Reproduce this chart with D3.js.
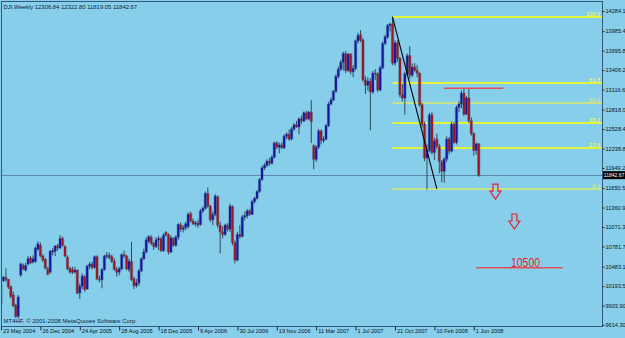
<!DOCTYPE html>
<html>
<head>
<meta charset="utf-8">
<title>DJI Weekly</title>
<style>
  html, body { margin: 0; padding: 0; background: #87ceeb; overflow: hidden; }
  svg { display: block; }
  text { font-family: "Liberation Sans", Arial, sans-serif; }
</style>
</head>
<body>
<div id="chart"></div>
<script src="https://cdn.jsdelivr.net/npm/d3@7"></script>
<script>
(function () {
  "use strict";

  // weekly candles (bar index 0 = 23 May 2004)
  var open = [9940,10270,10320,10290,10185,10060,9910,9745,10360,10500,
    10430,10520,10610,10550,10560,10740,10800,10640,10590,10450,
    10400,10700,10710,10790,10760,10900,10780,10620,10460,10440,
    10400,10430,10090,10190,10330,10150,10490,10520,10470,10630,
    10300,10290,10440,10640,10650,10630,10560,10440,10400,10450,
    10660,10640,10440,10560,10300,10200,10240,10420,10600,10700,
    10860,10920,10830,10780,10880,10900,10720,10990,10950,10700,
    10900,10800,10920,11100,11040,11060,11080,11270,11160,11120,
    11130,11110,11310,11350,11570,11380,11180,11260,11520,11100,
    11000,10960,11100,11040,11380,10840,10580,10960,10930,11220,
    11240,11310,11260,11450,11500,11600,11780,11950,11990,12050,
    12020,12110,12320,12260,12290,12250,12420,12450,12380,12530,
    12590,12560,12680,12650,12770,12680,12780,12280,12080,12260,
    12500,12360,12380,12580,12900,12960,13090,13310,13420,13520,
    13650,13400,13640,13380,13430,13840,13930,13850,13260,13180,
    13240,13080,13360,13350,13110,13440,13800,13900,14070,14090,
    13510,13810,13580,13040,12990,13350,13620,13330,13450,13400,
    13360,12890,12600,12100,12210,12740,12180,12380,12270,12040,
    11900,12080,12380,12200,12600,12330,12850,12900,13060,12750,
    12990,12650,12460,12210,12306.84];
  var high = [10240,10345,10457,10300,10200,10110,9930,10060,10540,10530,
    10540,10640,10640,10650,10780,10860,10840,10670,10610,10480,
    10730,10760,10800,10820,10950,10930,10800,10650,10480,10480,
    10480,10440,10230,10380,10360,10510,10550,10560,10650,10650,
    10350,10460,10660,10700,10690,10660,10610,10480,10480,10680,
    10720,10660,10600,10850,10330,10300,10450,10620,10750,10920,
    10950,10950,10850,10920,10940,10920,10980,11010,10980,10950,
    10920,10950,11130,11140,11100,11150,11290,11300,11200,11160,
    11180,11340,11380,11600,11660,11400,11300,11560,11540,11150,
    11080,11120,11130,11420,11390,10870,11000,11100,11250,11300,
    11340,11340,11480,11520,11620,11800,11980,12020,12080,12100,
    12140,12340,12350,12330,12330,12450,12480,12520,12560,12620,
    12650,12700,12730,12790,12800,12800,12960,12300,12290,12530,
    12520,12420,12600,12930,13000,13110,13340,13460,13560,13680,
    13690,13660,13660,13480,13860,13960,14000,13880,13320,13300,
    13280,13390,13420,13370,13470,13830,13930,14090,14110,14200,
    13850,13850,13600,13200,13380,13650,13760,13500,13510,13480,
    13370,12920,12640,12300,12770,12780,12400,12460,12310,12070,
    12110,12420,12410,12640,12630,12880,12940,13100,13140,13020,
    13135,12700,12480,12330,12322.80];
  var low = [9910,10255,10260,10150,10010,9880,9720,9710,10330,10430,
    10410,10500,10520,10530,10540,10720,10620,10550,10440,10350,
    10380,10650,10640,10720,10740,10780,10620,10430,10380,10370,
    10380,10070,10000,10150,10110,10140,10450,10440,10450,10280,
    10250,10160,10420,10600,10590,10540,10420,10330,10350,10430,
    10610,10430,10400,10270,10150,10170,10200,10400,10580,10680,
    10830,10800,10730,10760,10730,10700,10700,10930,10660,10680,
    10780,10780,10880,11000,10990,11020,11050,11140,11100,11080,
    11060,11090,11280,11330,11360,11150,11100,11230,11060,10680,
    10900,10940,11000,11000,10800,10530,10560,10900,10920,11170,
    11200,11240,11250,11420,11480,11580,11760,11920,11960,11980,
    12000,12090,12230,12170,12230,12230,12380,12350,12360,12500,
    12550,12450,12600,12630,12660,12660,12320,11930,12040,12230,
    12300,12320,12360,12560,12880,12940,13070,13280,13390,13400,
    13360,13380,13340,13300,13400,13800,13820,13230,13050,13100,
    12510,13050,13260,13080,13090,13420,13780,13870,13980,13480,
    13470,13530,13000,12940,12740,13320,13280,13300,13380,13300,
    12860,12550,12050,11630,12180,12150,12070,12230,11870,11740,
    11730,12040,12150,12180,12310,12300,12780,12840,12720,12740,
    12620,12430,12130,12150,11819.05];
  var close = [10210,10325,10290,10180,10035,9900,9740,10030,10520,10450,
    10500,10600,10540,10600,10760,10820,10640,10580,10460,10370,
    10710,10720,10790,10760,10900,10800,10640,10450,10400,10400,
    10430,10090,10190,10340,10140,10490,10520,10470,10630,10300,
    10290,10440,10640,10650,10620,10560,10440,10400,10450,10660,
    10640,10450,10560,10290,10200,10240,10420,10600,10700,10880,
    10930,10830,10780,10880,10900,10720,10950,10950,10700,10910,
    10800,10920,11110,11040,11060,11120,11260,11160,11120,11130,
    11100,11310,11350,11570,11380,11180,11260,11530,11100,11000,
    10960,11100,11040,11380,10840,10580,10960,10930,11220,11240,
    11310,11260,11450,11500,11600,11780,11950,11990,12050,12020,
    12110,12320,12260,12290,12250,12420,12450,12380,12530,12590,
    12560,12680,12650,12770,12680,12780,12640,12080,12260,12500,
    12360,12380,12580,12900,12960,13090,13310,13420,13520,13650,
    13400,13640,13380,13430,13840,13920,13850,13260,13180,13240,
    13080,13360,13350,13110,13440,13800,13900,14070,14090,13510,
    13810,13580,13040,12990,13350,13620,13330,13450,13400,13360,
    12890,12600,12100,12210,12740,12180,12350,12270,12050,11900,
    12080,12380,12200,12600,12330,12850,12900,13060,12750,12990,
    12650,12460,12210,12307,11842.67];

  var yTicks = [14284.10, 13985.40, 13695.80, 13406.20, 13116.60, 12818.00, 12528.40,
    12238.80, 11949.20, 11650.50, 11360.90, 11071.30, 10781.70, 10483.10,
    10193.50, 9903.90, 9614.30];
  var xTickBars = [0, 16, 32, 48, 64, 80, 96, 112, 128, 144, 160, 176, 192];
  var xTickLabels = ["23 May 2004", "26 Dec 2004", "24 Apr 2005", "28 Aug 2005",
    "18 Dec 2005", "9 Apr 2006", "30 Jul 2006", "19 Nov 2006", "11 Mar 2007",
    "1 Jul 2007", "21 Oct 2007", "10 Feb 2008", "1 Jun 2008"];

  // drawn objects
  var fibLevels = [100.0, 61.8, 50.0, 38.2, 23.6, 0.0];
  var fibHigh = 14198, fibLow = 11634.8, fibStartBar = 159;
  var trendBars = [159, 177], trendPrices = [14198, 11640];
  var resistBars = [180, 204], resistPrice = 13136;
  var arrowBars = [200.8, 208.5], arrowPrices = [11710, 11265];
  var targetBars = [193, 228], targetPrice = 10466, targetLabel = "10500";

  var W = 625, H = 338;
  var plot = {left: 1.5, right: 602.5, top: 1.5, bottom: 326.5};
  var small = "5.6px";

  var x = d3.scaleLinear().domain([0, 194]).range([1, 478.7]);
  var y = d3.scaleLinear().domain([9614.3, 14284.1]).range([325, 11]);

  var svg = d3.select("#chart").append("svg")
    .attr("width", W).attr("height", H);

  svg.append("rect").attr("width", W).attr("height", H).attr("fill", "#87ceeb");

  svg.append("clipPath").attr("id", "plotclip").append("rect")
    .attr("x", plot.left).attr("y", plot.top)
    .attr("width", plot.right - plot.left).attr("height", plot.bottom - plot.top);

  var g = svg.append("g").attr("clip-path", "url(#plotclip)");

  // last price line
  var last = close[close.length - 1];
  g.append("line")
    .attr("x1", plot.left).attr("x2", plot.right)
    .attr("y1", Math.round(y(last)) + 0.5).attr("y2", Math.round(y(last)) + 0.5)
    .attr("stroke", "#6088ad").attr("stroke-width", 1);

  // fibonacci levels
  fibLevels.forEach(function (lv) {
    var price = fibLow + (fibHigh - fibLow) * lv / 100;
    var yy = Math.round(y(price));
    var pale = (lv === 50 || lv === 0);
    g.append("line")
      .attr("x1", x(fibStartBar)).attr("x2", plot.right)
      .attr("y1", yy).attr("y2", yy)
      .attr("stroke", pale ? "#d8ea6c" : "#ffff00").attr("stroke-width", 1.6);
    g.append("text")
      .attr("x", 600).attr("y", yy - 1.5)
      .attr("text-anchor", "end")
      .attr("font-size", small)
      .attr("fill", pale ? "#e0ee70" : "#ffff20")
      .text(lv.toFixed(1));
  });

  // candles
  var bars = d3.range(close.length);
  var candle = g.selectAll("g.candle").data(bars).enter().append("g").attr("class", "candle");

  candle.append("line")
    .attr("x1", function (d) { return x(d); })
    .attr("x2", function (d) { return x(d); })
    .attr("y1", function (d) { return y(high[d]); })
    .attr("y2", function (d) { return y(low[d]); })
    .attr("stroke", "#33475c").attr("stroke-width", 1);

  function bodyTop(d) { return y(Math.max(open[d], close[d])); }
  function bodyH(d) { return Math.max(1, y(Math.min(open[d], close[d])) - bodyTop(d)); }

  candle.append("rect")
    .attr("x", function (d) { return x(d) - 1.7; })
    .attr("width", 3.4)
    .attr("y", function (d) { return bodyTop(d) - 0.5; })
    .attr("height", function (d) { return bodyH(d) + 1; })
    .attr("fill", "#3d5a76").attr("opacity", 0.45);

  candle.append("rect")
    .attr("x", function (d) { return x(d) - 1; })
    .attr("width", 2)
    .attr("y", bodyTop)
    .attr("height", bodyH)
    .attr("fill", function (d) { return close[d] >= open[d] ? "#1414a6" : "#a4121c"; });

  // trend line
  g.append("line")
    .attr("x1", x(trendBars[0])).attr("y1", y(trendPrices[0]))
    .attr("x2", x(trendBars[1])).attr("y2", y(trendPrices[1]))
    .attr("stroke", "#000").attr("stroke-width", 1.1);

  // resistance line
  g.append("line")
    .attr("x1", x(resistBars[0])).attr("x2", x(resistBars[1]))
    .attr("y1", y(resistPrice)).attr("y2", y(resistPrice))
    .attr("stroke", "#e0505a").attr("stroke-width", 1.6);

  // down arrows
  arrowBars.forEach(function (b, k) {
    var cx = x(b), t = y(arrowPrices[k]);
    var p = d3.path();
    p.moveTo(cx - 2.5, t); p.lineTo(cx + 2.5, t); p.lineTo(cx + 2.5, t + 7);
    p.lineTo(cx + 5.5, t + 7); p.lineTo(cx, t + 15); p.lineTo(cx - 5.5, t + 7);
    p.lineTo(cx - 2.5, t + 7); p.closePath();
    g.append("path").attr("d", p.toString())
      .attr("fill", "none").attr("stroke", "#e8202a").attr("stroke-width", 1.2);
  });

  // target line + label
  g.append("line")
    .attr("x1", x(targetBars[0])).attr("x2", x(targetBars[1]))
    .attr("y1", y(targetPrice)).attr("y2", y(targetPrice))
    .attr("stroke", "#e0505a").attr("stroke-width", 1.4);
  g.append("text")
    .attr("x", 511).attr("y", y(targetPrice) - 0.5)
    .attr("font-size", "13px").attr("fill", "#e81c24")
    .attr("textLength", 29).attr("lengthAdjust", "spacingAndGlyphs")
    .text(targetLabel);

  // frame
  svg.append("rect")
    .attr("x", plot.left).attr("y", plot.top)
    .attr("width", plot.right - plot.left).attr("height", plot.bottom - plot.top)
    .attr("fill", "none").attr("stroke", "#34587e").attr("stroke-width", 1);

  // price axis (labels show the 7 characters that fit the strip)
  var yAxis = d3.axisRight(y).tickValues(yTicks).tickSize(2).tickPadding(1)
    .tickFormat(function (d) { return d3.format(".2f")(d).slice(0, 7); });
  var yG = svg.append("g").attr("transform", "translate(" + plot.right + ",0)").call(yAxis);
  yG.select(".domain").remove();
  yG.selectAll("line").attr("stroke", "#1a2a40");
  yG.selectAll("text").attr("font-size", small).attr("fill", "#0c1424")
    .attr("font-family", "Liberation Sans, Arial, sans-serif");

  // last price tag
  svg.append("rect").attr("x", 603).attr("y", y(last) - 4).attr("width", 22).attr("height", 8)
    .attr("fill", "#000");
  svg.append("text").attr("x", 603.8).attr("y", y(last) + 1.9)
    .attr("font-size", "5px").attr("fill", "#fff")
    .text(last.toFixed(2));

  // time axis
  var xAxis = d3.axisBottom(x).tickValues(xTickBars).tickSize(4).tickPadding(1)
    .tickFormat(function (d, i) { return xTickLabels[i]; });
  var xG = svg.append("g").attr("transform", "translate(0," + plot.bottom + ")").call(xAxis);
  xG.select(".domain").remove();
  xG.selectAll("line").attr("stroke", "#1a2a40");
  xG.selectAll("text").attr("text-anchor", "start").attr("dx", "1.5").attr("dy", "0.25em")
    .attr("font-size", small).attr("fill", "#0c1424")
    .attr("font-family", "Liberation Sans, Arial, sans-serif");

  // header and copyright
  svg.append("text").attr("x", 3.5).attr("y", 9)
    .attr("font-size", "5.9px").attr("fill", "#0e1e3c")
    .text("DJI,Weekly  12306.84 12322.80 11819.05 11842.67");
  svg.append("text").attr("x", 3.5).attr("y", 323)
    .attr("font-size", "6px").attr("fill", "#0e1e3c")
    .text("MT4HF, \u00a9 2001-2008 MetaQuotes Software Corp.");
})();
</script>
</body>
</html>
